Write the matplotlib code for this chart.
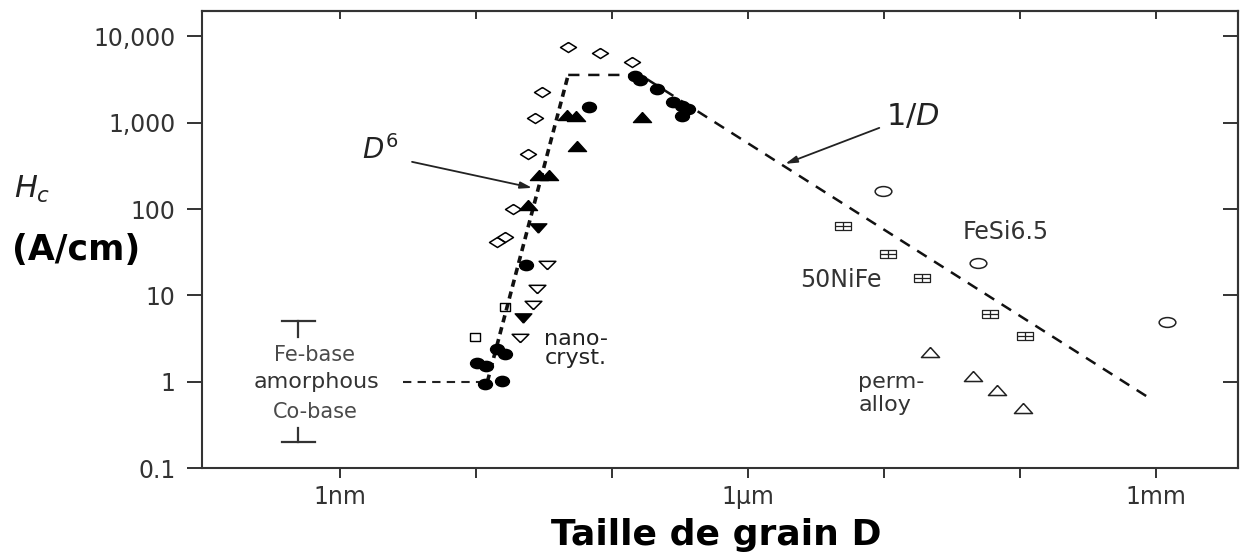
import matplotlib
matplotlib.use('Agg')
import numpy as np
import matplotlib.pyplot as plt
from matplotlib.path import Path
from matplotlib.ticker import NullLocator

plt.rcParams['font.family'] = ['DejaVu Sans']
plt.rcParams['mathtext.fontset'] = 'dejavusans'

# grain size D (nm) and coercivity Hc (A/cm) for each family of samples
diamond_D = [47.5, 81.6, 140, 30.6, 27.1, 24.1, 18.7, 14.3, 16.3]
diamond_Hc = [7540, 6430, 5060, 2270, 1140, 435, 100, 41.7, 47.7]

dot_D = [148, 161, 214, 281, 327, 362, 327, 67.8, 23.3, 14.3, 16.3, 10.2, 11.8, 11.6, 15.5]
dot_Hc = [3480, 3130, 2460, 1740, 1560, 1440, 1200, 1520, 22.6, 2.41, 2.11, 1.66, 1.53, 0.95, 1.03]

tri_up_D = [46.7, 54.3, 166, 55.3, 29.1, 34.4, 24.1]
tri_up_Hc = [1230, 1200, 1170, 539, 249, 249, 112]

tri_down_D = [28.6, 22.2]
tri_down_Hc = [60.6, 5.5]

open_down_D = [33.3, 28.1, 26.2, 21.1]
open_down_Hc = [22.6, 11.9, 7.8, 3.23]

square_D = [16.3, 9.8]
square_Hc = [7.38, 3.32]

fesi_D = [9840, 49100, 1.19e6]
fesi_Hc = [162, 23.8, 4.95]

nife_D = [5000, 10700, 19000, 60200, 1.09e5]
nife_Hc = [63.9, 30.3, 16.0, 6.12, 3.41]

permalloy_D = [21800, 45100, 67800, 1.05e5]
permalloy_Hc = [2.22, 1.17, 0.81, 0.50]

# guide lines: amorphous level, D^6 rise, plateau + 1/D decay
amorph_line_D = [2.9, 10.5]
amorph_line_Hc = [1, 1]
d6_line_D = [12.1, 47.5]
d6_line_Hc = [1, 3575]
inv_line_D = [47.5, 161, 8.7e5]
inv_line_Hc = [3575, 3575, 0.66]

# Hc range of amorphous alloys (Fe-base top, Co-base bottom)
range_D = 0.49
range_cap_D = [0.375, 0.655]
fe_base_Hc = [5.08, 3.32]
co_base_Hc = [0.202, 0.293]

x_ticks = [1, 10, 100, 1e3, 1e4, 1e5, 1e6]
x_tick_labels = ['1nm', '', '', '1µm', '', '', '1mm']
y_ticks = [0.1, 1, 10, 100, 1000, 10000]
y_tick_labels = ['0.1', '1', '10', '100', '1,000', '10,000']


def wide(verts, sx, codes=None):
    v = np.array(verts, dtype=float)
    v[:, 0] *= sx
    return Path(v, codes)


circle = Path.unit_circle()
m_circle = lambda sx: wide(circle.vertices, sx, circle.codes)
m_diamond = lambda sx: wide([[0, 1], [1, 0], [0, -1], [-1, 0], [0, 1]], sx)
m_tri_up = lambda sx: wide([[0, 1], [-1, -1], [1, -1], [0, 1]], sx)
m_tri_down = lambda sx: wide([[0, -1], [-1, 1], [1, 1], [0, -1]], sx)
m_square = lambda sx: wide([[-1, -1], [1, -1], [1, 1], [-1, 1], [-1, -1]], sx)
m_boxplus = lambda sx: wide([[-1, -1], [1, -1], [1, 1], [-1, 1], [-1, -1],
                             [-1, 0], [1, 0], [0, -1], [0, 1]], sx,
                            [1, 2, 2, 2, 2, 1, 2, 1, 2])

fig = plt.figure(figsize=(12.52, 5.53), dpi=100)
ax = fig.add_axes([202 / 1252, 1 - 468 / 553, 1036 / 1252, 457 / 553])
ax.set_xscale('log')
ax.set_yscale('log')
ax.set_xlim(10 ** -1.015, 10 ** 6.6)
ax.set_ylim(10 ** -0.995, 10 ** 4.294)

# guide lines
ax.plot(amorph_line_D, amorph_line_Hc, color='#222', lw=1.5, ls=(0, (4, 3)), zorder=2)
ax.plot(d6_line_D, d6_line_Hc, color='#111', lw=2.6, ls=(0, (2, 1.4)), zorder=2)
ax.plot(inv_line_D, inv_line_Hc, color='#111', lw=1.8, ls=(0, (4.5, 3.5)), zorder=2)

# amorphous range brackets
ax.plot(range_cap_D, [fe_base_Hc[0]] * 2, color='#333', lw=1.6)
ax.plot([range_D] * 2, fe_base_Hc, color='#333', lw=1.6)
ax.plot(range_cap_D, [co_base_Hc[0]] * 2, color='#333', lw=1.6)
ax.plot([range_D] * 2, co_base_Hc, color='#333', lw=1.6)

# data points
ax.plot(diamond_D, diamond_Hc, ls='none', marker=m_diamond(1.6), ms=11.5,
        mfc='none', mec='black', mew=1.1, zorder=3)
ax.plot(open_down_D, open_down_Hc, ls='none', marker=m_tri_down(2.0), ms=12,
        mfc='none', mec='black', mew=1.1, zorder=3)
ax.plot(square_D, square_Hc, ls='none', marker=m_square(1.4), ms=7.5,
        mfc='none', mec='black', mew=1.0, zorder=3)
ax.plot(dot_D, dot_Hc, ls='none', marker=m_circle(1.35), ms=10,
        mfc='black', mec='black', zorder=4)
ax.plot(tri_up_D, tri_up_Hc, ls='none', marker=m_tri_up(1.8), ms=13,
        mfc='black', mec='black', zorder=4)
ax.plot(tri_down_D, tri_down_Hc, ls='none', marker=m_tri_down(1.8), ms=12,
        mfc='black', mec='black', zorder=4)
ax.plot(fesi_D, fesi_Hc, ls='none', marker=m_circle(1.7), ms=12,
        mfc='none', mec='#222', mew=1.1, zorder=3)
ax.plot(nife_D, nife_Hc, ls='none', marker=m_boxplus(1.8), ms=11.5,
        mfc='none', mec='#222', mew=0.9, zorder=3)
ax.plot(permalloy_D, permalloy_Hc, ls='none', marker=m_tri_up(1.8), ms=13,
        mfc='none', mec='#222', mew=1.1, zorder=3)

# labels inside the plot
grey = '#4a4a4a'
ax.text(0.644, 2.05, 'Fe-base', fontsize=15, color=grey, ha='center', va='center')
ax.text(0.667, 1.0, 'amorphous', fontsize=16, color='#333', ha='center', va='center')
ax.text(0.655, 0.45, 'Co-base', fontsize=15, color=grey, ha='center', va='center')
ax.text(31.7, 3.15, 'nano-', fontsize=16, color='#222', ha='left', va='center')
ax.text(31.7, 1.90, 'cryst.', fontsize=16, color='#222', ha='left', va='center')
ax.text(77600, 54.5, 'FeSi6.5', fontsize=17, color='#333', ha='center', va='center')
ax.text(4830, 15.2, '50NiFe', fontsize=17, color='#333', ha='center', va='center')
ax.text(6440, 1.0, 'perm-', fontsize=16, color='#333', ha='left', va='center')
ax.text(6440, 0.542, 'alloy', fontsize=16, color='#333', ha='left', va='center')

ax.text(1.97, 484, '$D^6$', fontsize=20, color='#222', ha='center', va='center')
ax.annotate('', xy=(25.8, 176), xytext=(3.38, 352),
            arrowprops=dict(arrowstyle='-|>,head_width=0.2,head_length=0.7',
                            color='#222', lw=1.3, shrinkA=0, shrinkB=0))
ax.text(16300, 1167, '$1/D$', fontsize=22, color='#222', ha='center', va='center')
ax.annotate('', xy=(1870, 334), xytext=(9190, 871),
            arrowprops=dict(arrowstyle='-|>,head_width=0.2,head_length=0.7',
                            color='#222', lw=1.3, shrinkA=0, shrinkB=0))

# axes, ticks
for s in ax.spines.values():
    s.set_linewidth(1.5)
    s.set_color('#333')

ax.set_xticks(x_ticks, x_tick_labels)
ax.set_yticks(y_ticks, y_tick_labels)
ax.xaxis.set_minor_locator(NullLocator())
ax.yaxis.set_minor_locator(NullLocator())
ax.tick_params(axis='x', direction='out', length=7, width=1.4, color='#333',
               labelsize=17, labelcolor='#333', pad=5)
ax.tick_params(axis='y', direction='out', length=11, width=1.4, color='#333',
               labelsize=17, labelcolor='#333', pad=8)

top = ax.secondary_xaxis('top')
top.set_xticks(x_ticks, [''] * len(x_ticks))
top.xaxis.set_minor_locator(NullLocator())
top.tick_params(direction='in', length=6, width=1.4, color='#333')
right = ax.secondary_yaxis('right')
right.set_yticks(y_ticks, [''] * len(y_ticks))
right.yaxis.set_minor_locator(NullLocator())
right.tick_params(direction='in', length=11, width=1.4, color='#333')
for sec in (top, right):
    for s in sec.spines.values():
        s.set_linewidth(1.5)
        s.set_color('#333')

fig.text(0.026, 0.658, '$H_c$', fontsize=22, ha='center', va='center', color='#222')
fig.text(0.0607, 0.548, '(A/cm)', fontsize=25, fontweight='bold', ha='center', va='center')
fig.text(0.572, 0.0145, 'Taille de grain D', fontsize=26, fontweight='bold',
         ha='center', va='baseline')

fig.savefig('out.png', dpi=100)
